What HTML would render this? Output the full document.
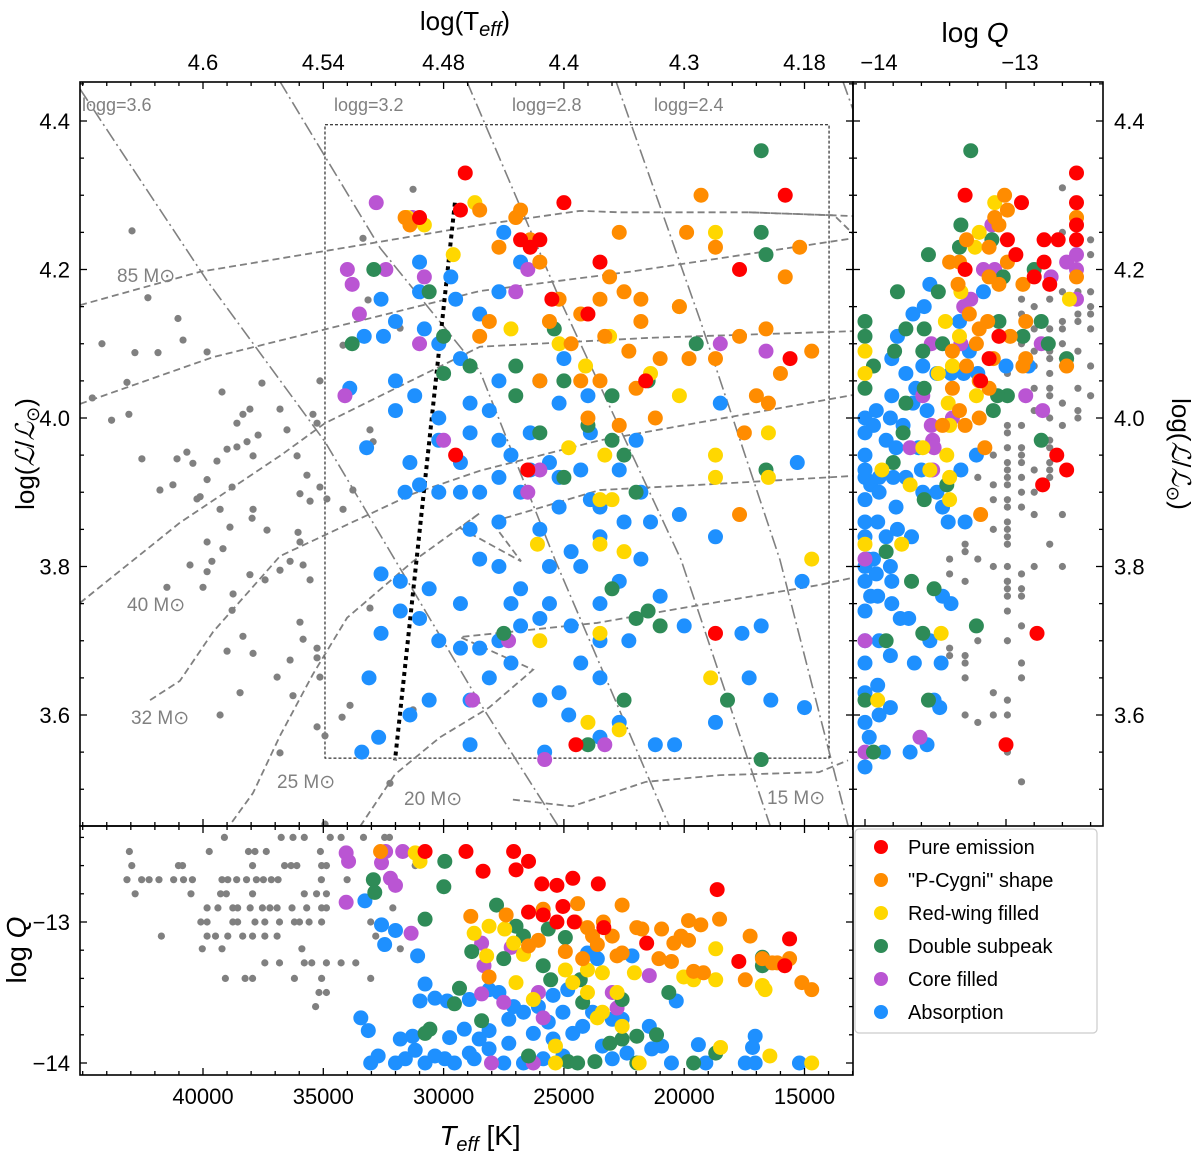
<!DOCTYPE html>
<html><head><meta charset="utf-8">
<style>
html,body{margin:0;padding:0;background:#fff;}
svg{display:block;font-family:"Liberation Sans",sans-serif;}
</style></head>
<body>
<svg id="chart" width="1200" height="1155" viewBox="0 0 1200 1155" xmlns="http://www.w3.org/2000/svg">
<defs>
<clipPath id="cm"><rect x="80" y="82" width="773" height="744"/></clipPath>
<clipPath id="cr"><rect x="853" y="82" width="250" height="744"/></clipPath>
<clipPath id="cb"><rect x="80" y="826" width="773" height="249"/></clipPath>
</defs>
<g id="gMain" clip-path="url(#cm)"></g>
<g id="gRight" clip-path="url(#cr)"></g>
<g id="gBot" clip-path="url(#cb)"></g>
<g id="gAxes"></g>
</svg>
<script>
// ---------- DATA (Teff in kK, logL, logQ) ----------
const classNames=["Pure emission","\"P-Cygni\" shape","Red-wing filled","Double subpeak","Core filled","Absorption"];
const classColors=["#ff0000","#ff8c00","#ffd700","#2e8b57","#ba55d3","#1e90ff"];

const hrGrey=[[42.95,4.252],[42.29,4.162],[41.04,4.134],[40.83,4.105],[42.83,4.088],[41.87,4.088],[43.16,4.048],[43.08,4.005],[42.54,3.945],[41.79,3.903],[41.25,3.910],[41.08,3.945],[40.67,3.954],[40.42,3.939],[40.12,3.894],[39.83,3.917],[39.42,3.942],[39.00,3.958],[38.79,3.907],[38.59,3.961],[38.17,3.968],[37.92,3.949],[38.34,4.005],[38.05,4.012],[37.71,3.977],[37.55,4.047],[36.80,4.012],[36.51,3.984],[36.09,3.949],[35.97,3.898],[35.68,3.923],[35.43,4.005],[35.26,3.993],[35.14,4.050],[39.83,4.089],[39.21,4.035],[38.59,3.993],[40.25,3.891],[39.29,3.877],[38.88,3.853],[37.92,3.877],[39.83,3.833],[39.17,3.824],[37.96,3.865],[37.34,3.849],[39.83,3.793],[40.00,3.772],[40.54,3.802],[39.63,3.807],[38.79,3.741],[38.75,3.763],[38.05,3.789],[37.42,3.782],[36.80,3.795],[36.38,3.807],[35.84,3.802],[35.55,3.782],[35.97,3.833],[36.05,3.846],[35.55,3.888],[35.14,3.907],[34.85,3.891],[38.34,3.706],[37.92,3.683],[39.00,3.686],[38.46,3.630],[36.92,3.651],[36.38,3.674],[35.84,3.702],[35.97,3.725],[35.26,3.690],[35.26,3.677],[35.14,3.651],[36.26,3.626],[36.80,3.549],[35.26,3.584],[34.93,3.572],[39.29,3.600],[41.50,3.772],[34.22,3.597],[33.89,3.613],[33.06,3.744],[34.18,3.877],[33.77,3.903],[32.93,3.968],[34.18,4.098],[33.39,4.136],[33.14,4.159],[33.35,4.242],[31.27,4.308],[31.81,4.121],[33.06,3.984],[31.27,3.607],[32.23,3.508],[34.93,3.453],[44.2,4.10],[43.8,3.997],[44.6,4.027]];

const hrBlue=[[32.5,4.11],[33.3,4.11],[32.0,4.13],[30.8,4.12],[30.2,4.10],[29.3,4.08],[32.0,4.05],[31.2,4.03],[32.0,4.01],[30.2,4.00],[28.9,4.02],[28.1,4.01],[28.9,3.98],[30.2,3.97],[33.2,3.96],[31.4,3.94],[31.6,3.90],[31.0,3.91],[30.2,3.90],[29.3,3.90],[28.5,3.90],[27.7,3.92],[26.8,3.90],[26.4,3.93],[27.2,3.95],[25.6,3.94],[25.2,3.92],[24.3,3.93],[23.9,3.89],[23.5,3.88],[25.2,3.88],[27.7,3.86],[28.9,3.85],[28.5,3.81],[27.7,3.80],[26.8,3.77],[25.6,3.80],[24.7,3.82],[23.5,3.84],[26.0,3.73],[26.8,3.72],[27.7,3.70],[28.5,3.69],[29.3,3.69],[30.2,3.70],[31.0,3.73],[31.8,3.74],[32.6,3.79],[31.8,3.78],[32.6,3.71],[30.6,3.77],[29.3,3.75],[25.6,3.75],[24.7,3.72],[23.5,3.75],[22.7,3.78],[24.3,3.67],[23.5,3.65],[25.2,3.63],[26.0,3.62],[27.2,3.67],[28.1,3.65],[28.9,3.62],[30.6,3.62],[31.4,3.60],[33.1,3.65],[32.7,3.57],[33.4,3.55],[28.9,3.56],[25.8,3.55],[23.5,3.57],[21.2,3.56],[20.4,3.56],[22.7,3.59],[18.7,3.59],[17.6,3.71],[16.8,3.72],[17.3,3.65],[16.4,3.62],[15.0,3.61],[15.1,3.78],[18.7,3.84],[20.2,3.87],[15.3,3.94],[18.5,4.02],[33.9,4.04],[32.6,4.16],[31.0,4.17],[29.5,4.16],[28.5,4.14],[27.7,4.17],[27.5,4.25],[26.8,4.21],[29.7,4.19],[31.0,4.21],[27.7,4.05],[26.0,4.05],[25.2,4.02],[23.9,3.98],[22.7,3.93],[21.8,3.90],[21.4,3.86],[27.7,3.97],[26.4,3.98],[29.3,3.94],[23.5,3.70],[21.8,3.81],[22.3,3.70],[27.2,3.75],[26.0,3.85],[24.3,3.80],[22.0,3.97],[24.0,4.03],[25.0,4.08],[22.5,3.86],[21.0,3.76],[20.0,3.72],[24.8,3.60]];
const hrPurple=[[32.8,4.29],[31.3,4.27],[34.0,4.20],[33.8,4.18],[33.5,4.14],[34.1,4.03],[31.0,4.10],[32.4,4.20],[26.0,3.93],[26.5,3.90],[27.3,3.70],[18.5,4.10],[16.6,4.09],[25.8,3.54],[23.3,3.56],[28.8,3.62],[30.8,4.19],[30.0,3.97],[26.5,4.20],[27.0,4.17]];
const hrGreen=[[16.8,4.36],[16.8,4.25],[16.6,4.22],[30.6,4.17],[25.4,4.12],[30.0,4.11],[28.9,4.07],[27.0,4.07],[27.0,4.03],[25.0,4.05],[24.0,3.99],[23.0,3.97],[22.5,3.95],[21.5,4.05],[26.0,3.98],[25.0,3.92],[22.0,3.90],[33.8,4.10],[32.9,4.20],[30.0,4.06],[22.0,3.73],[21.0,3.72],[21.5,3.74],[23.0,3.77],[27.5,3.71],[22.5,3.62],[18.2,3.62],[16.8,3.54],[24.0,3.56],[16.6,3.93],[19.5,4.10],[23.0,4.03]];
const hrGold=[[28.7,4.29],[31.5,4.27],[30.8,4.26],[18.7,4.25],[20.2,4.15],[23.1,4.11],[25.2,4.10],[27.2,4.12],[24.1,4.07],[21.4,4.06],[20.2,4.03],[18.7,3.95],[18.7,3.92],[16.5,3.98],[23.3,3.95],[23.5,3.89],[23.0,3.89],[26.1,3.83],[23.5,3.83],[22.5,3.82],[23.5,3.71],[18.9,3.65],[26.0,3.70],[24.0,3.59],[22.7,3.58],[14.7,3.81],[29.6,4.22],[16.5,3.92],[24.8,3.96]];
const hrOrange=[[19.3,4.30],[19.9,4.25],[18.7,4.23],[22.7,4.25],[23.1,4.19],[22.5,4.17],[21.8,4.16],[23.5,4.16],[25.2,4.16],[24.3,4.14],[25.6,4.13],[26.8,4.28],[26.4,4.24],[27.7,4.23],[28.5,4.28],[28.1,4.13],[26.0,4.21],[28.5,4.11],[24.7,4.10],[23.3,4.11],[21.8,4.13],[20.2,4.15],[21.0,4.08],[19.8,4.08],[18.7,4.08],[17.7,4.11],[16.6,4.12],[15.8,4.19],[15.2,4.23],[14.7,4.09],[16.5,4.02],[17.5,3.98],[17.7,3.87],[21.2,4.00],[22.7,3.99],[23.5,4.05],[24.3,4.05],[22.3,4.09],[26.0,4.05],[31.4,4.26],[31.6,4.27],[27.0,4.27],[24.0,4.00],[22.0,4.04],[16.0,4.06],[17.0,4.03]];
const hrRed=[[29.1,4.33],[25.0,4.29],[15.8,4.30],[17.7,4.20],[23.5,4.21],[26.0,4.24],[26.8,4.24],[26.4,4.23],[21.6,4.05],[15.6,4.08],[18.7,3.71],[24.5,3.56],[29.5,3.95],[26.5,3.93],[29.3,4.28],[31.0,4.27],[25.5,4.16],[24.0,4.14]];

// right panel: logQ vs logL
const qGreyCols=[-13.40,-13.29,-13.20,-13.09,-12.99,-12.89,-12.80,-12.69,-12.60,-12.49,-12.40];
const qGreyL=[[3.81,3.79,3.69,3.68],[3.83,3.82,3.78,3.68,3.67,3.65,3.60,3.44],[3.92,3.81,3.70,3.59],[3.95,3.91,3.89,3.85,3.80,3.63,3.60],[4.06,3.99,3.98,3.96,3.94,3.93,3.92,3.91,3.89,3.88,3.86,3.85,3.84,3.83,3.80,3.78,3.78,3.77,3.76,3.74,3.70,3.62,3.60,3.55],[4.16,4.14,4.10,3.99,3.96,3.95,3.94,3.92,3.90,3.88,3.79,3.77,3.76,3.72,3.67,3.65,3.51],[4.15,4.12,4.09,4.07,4.04,4.01,3.93,3.90,3.87,3.80],[4.16,4.12,4.09,4.08,4.06,4.04,4.03,4.00,3.97,3.96,3.94,3.93,3.92,3.83],[4.31,4.25,4.17,4.13,4.12,4.10,4.08,4.07,4.02,3.99,3.87,3.80],[4.17,4.14,4.13,4.09,4.04,4.01,4.00],[4.24,4.22,4.17,4.15,4.14,4.12,4.07,4.03]];
const qBlue=[[-13.54,4.18],[-13.58,4.15],[-13.66,4.14],[-13.16,4.17],[-13.33,4.13],[-13.26,4.09],[-13.77,4.11],[-13.81,4.08],[-13.71,4.06],[-13.59,4.07],[-13.49,4.06],[-13.39,4.06],[-13.30,4.06],[-13.20,4.06],[-13.00,4.07],[-12.84,4.07],[-13.64,4.04],[-13.81,4.03],[-13.92,4.01],[-13.94,3.99],[-13.82,4.00],[-13.73,3.99],[-13.66,4.02],[-13.56,4.01],[-13.85,3.97],[-13.78,3.96],[-13.62,3.96],[-14.00,3.98],[-14.00,3.95],[-14.00,3.92],[-14.00,3.89],[-14.00,3.86],[-13.96,3.91],[-13.90,3.90],[-13.80,3.92],[-13.71,3.92],[-13.59,3.90],[-13.49,3.90],[-13.60,3.93],[-13.32,3.93],[-13.21,3.95],[-13.78,3.88],[-13.45,3.88],[-13.41,3.86],[-13.29,3.86],[-13.91,3.86],[-13.77,3.85],[-13.85,3.84],[-13.67,3.84],[-13.98,3.81],[-13.92,3.79],[-13.82,3.80],[-14.00,3.78],[-13.96,3.76],[-13.91,3.76],[-13.81,3.78],[-14.00,3.74],[-13.81,3.75],[-13.45,3.76],[-13.39,3.75],[-13.75,3.73],[-13.69,3.73],[-14.00,3.70],[-13.90,3.70],[-13.54,3.70],[-13.46,3.67],[-13.65,3.67],[-13.82,3.68],[-14.00,3.67],[-13.91,3.64],[-14.00,3.63],[-13.82,3.61],[-13.90,3.60],[-14.00,3.59],[-13.51,3.62],[-13.47,3.61],[-13.97,3.57],[-13.87,3.55],[-13.68,3.55],[-13.56,3.56],[-14.00,3.53],[-14.00,3.84],[-14.00,3.80],[-13.94,3.81],[-14.00,4.00],[-14.00,3.93],[-13.90,3.92]];
const qPurple=[[-13.10,4.26],[-13.16,4.20],[-13.08,4.20],[-13.25,4.16],[-13.30,4.15],[-13.53,4.10],[-13.32,4.10],[-12.57,4.21],[-12.68,4.19],[-12.50,4.22],[-12.50,4.20],[-12.50,4.16],[-12.75,4.10],[-12.86,4.03],[-12.74,4.01],[-13.59,4.03],[-13.53,3.99],[-13.52,3.97],[-13.68,3.96],[-13.51,3.96],[-13.52,3.93],[-14.00,3.81],[-14.00,3.70],[-13.61,3.57],[-14.00,3.55],[-13.38,4.00]];
const qGreen=[[-13.25,4.36],[-13.32,4.26],[-13.33,4.23],[-13.55,4.22],[-13.77,4.17],[-13.48,4.17],[-13.10,4.24],[-13.02,4.19],[-12.80,4.20],[-14.00,4.13],[-14.00,4.11],[-13.71,4.12],[-13.58,4.12],[-13.45,4.10],[-13.59,4.09],[-13.79,4.09],[-13.94,4.07],[-14.00,4.04],[-13.05,4.13],[-12.88,4.11],[-12.75,4.13],[-12.70,4.10],[-12.57,4.08],[-13.09,4.01],[-12.99,4.03],[-13.06,4.03],[-13.71,4.02],[-13.73,3.98],[-13.80,3.94],[-13.42,3.91],[-13.58,3.89],[-13.85,3.82],[-13.67,3.78],[-13.51,3.77],[-13.21,3.72],[-13.59,3.71],[-13.85,3.70],[-13.55,3.62],[-14.00,3.62],[-13.94,3.55],[-12.75,3.97],[-13.58,4.04]];
const qGold=[[-13.08,4.29],[-13.19,4.25],[-13.22,4.23],[-13.32,4.17],[-13.43,4.13],[-13.33,4.11],[-13.48,4.06],[-13.38,4.07],[-13.21,4.03],[-13.41,4.02],[-13.40,3.99],[-13.59,3.96],[-13.42,3.95],[-13.54,3.93],[-13.88,3.93],[-13.68,3.91],[-13.40,3.92],[-13.40,3.89],[-14.00,4.09],[-14.00,4.06],[-14.00,3.83],[-13.74,3.83],[-13.46,3.71],[-13.91,3.62],[-12.55,4.16],[-12.50,4.27]];
const qOrange=[[-13.01,4.30],[-12.99,4.28],[-13.05,4.26],[-13.08,4.27],[-13.12,4.23],[-13.28,4.24],[-13.40,4.21],[-13.33,4.21],[-13.12,4.19],[-12.99,4.21],[-13.05,4.18],[-12.88,4.18],[-13.34,4.18],[-13.26,4.14],[-13.19,4.12],[-13.13,4.13],[-12.97,4.11],[-12.86,4.13],[-13.21,4.10],[-13.38,4.09],[-13.28,4.07],[-13.09,4.08],[-13.19,4.05],[-12.88,4.07],[-12.86,4.08],[-13.12,4.04],[-13.38,4.04],[-13.33,4.01],[-13.29,3.99],[-13.19,4.00],[-13.45,3.99],[-13.15,3.96],[-13.18,3.87],[-12.57,4.07],[-12.50,4.19],[-12.50,4.27]];
const qRed=[[-12.50,4.33],[-13.29,4.30],[-12.89,4.29],[-12.50,4.29],[-12.50,4.26],[-12.73,4.24],[-12.63,4.24],[-12.99,4.24],[-12.93,4.22],[-12.73,4.21],[-12.80,4.19],[-12.69,4.18],[-13.29,4.20],[-13.05,4.11],[-13.12,4.08],[-13.18,4.05],[-12.64,3.95],[-12.57,3.93],[-12.74,3.91],[-12.78,3.71],[-13.00,3.56],[-12.50,4.24]];

// bottom panel: Teff (kK) vs logQ
const tqGreyRows=[-12.40,-12.50,-12.60,-12.70,-12.80,-12.90,-13.00,-13.10,-13.19,-13.29,-13.40,-13.50,-13.60];
const tqGreyT=[[39.11,36.75,36.26,35.79,34.71,34.26,33.33,32.45,32.25],[43.06,39.74,38.11,37.84,37.37,35.12],[42.96,41.02,40.85,37.94,36.61,36.34,36.10,35.07,34.87,31.18],[43.16,42.55,42.24,41.83,41.22,40.81,40.44,39.21,38.97,38.60,38.19,37.78,37.49,37.16,36.88,35.08,34.01],[42.82,40.50,39.27,39.03,37.94,35.79,35.28,34.87],[39.83,39.38,38.76,38.56,38.04,37.53,37.22,36.92,36.30,35.69,35.07,34.87,32.11],[40.09,39.83,38.76,38.56,37.84,37.43,36.82,36.20,35.99,35.59,35.07,33.03],[41.73,39.83,39.48,38.97,38.35,37.94,37.43,36.92,32.82],[40.03,39.21,35.89,31.80],[37.43,36.82,35.79,35.48,34.87,34.26,33.65],[39.07,38.25,37.94,36.20,35.07,33.03],[35.18,34.87],[35.32]];
const tqBlue=[[33.27,-12.85],[32.58,-13.02],[32.00,-13.06],[32.45,-13.16],[31.08,-13.24],[30.77,-13.44],[30.98,-13.56],[30.36,-13.54],[29.85,-13.56],[28.93,-13.55],[28.11,-13.48],[27.70,-13.50],[33.44,-13.68],[33.13,-13.77],[31.80,-13.83],[31.29,-13.81],[29.75,-13.82],[29.14,-13.76],[28.52,-13.83],[28.11,-13.77],[27.29,-13.69],[26.68,-13.64],[26.06,-13.60],[25.45,-13.52],[24.84,-13.48],[24.02,-13.22],[23.61,-13.26],[22.17,-13.24],[22.58,-13.69],[21.45,-13.74],[20.33,-13.56],[19.41,-13.87],[17.05,-13.81],[17.16,-13.89],[32.72,-13.95],[33.03,-14.00],[32.00,-14.00],[31.59,-13.97],[30.77,-14.00],[29.95,-13.97],[29.55,-14.00],[28.73,-13.97],[27.50,-14.00],[26.68,-14.00],[25.86,-13.97],[25.04,-13.95],[22.99,-13.97],[21.35,-13.90],[20.53,-14.00],[19.10,-14.00],[17.46,-14.00],[17.05,-14.00],[15.21,-14.00],[27.29,-13.86],[26.27,-13.79],[25.45,-13.83],[24.63,-13.79],[23.81,-13.64],[23.40,-13.88],[20.94,-13.88],[22.38,-13.93],[27.09,-13.60],[25.65,-13.71],[25.04,-13.64],[24.22,-13.74],[22.99,-13.69],[28.93,-13.93],[28.11,-13.90],[30.36,-13.95],[31.18,-13.91]];
const tqPurple=[[34.05,-12.51],[33.95,-12.57],[32.41,-12.50],[31.70,-12.50],[32.58,-12.58],[32.21,-12.69],[32.00,-12.74],[34.05,-12.86],[31.35,-13.08],[28.42,-13.15],[28.32,-13.31],[27.19,-13.18],[27.50,-13.57],[28.42,-13.51],[26.06,-13.50],[25.86,-13.68],[22.99,-13.50],[21.45,-13.38],[22.79,-13.61],[28.01,-14.00],[26.27,-14.00]];
const tqGreen=[[29.95,-12.57],[29.99,-12.75],[32.92,-12.70],[32.86,-12.79],[30.77,-12.98],[27.80,-12.88],[26.99,-13.03],[26.68,-13.10],[25.65,-13.05],[24.94,-13.11],[28.83,-13.21],[27.50,-13.26],[25.86,-13.31],[25.55,-13.41],[24.32,-13.41],[20.64,-13.50],[22.58,-13.55],[24.22,-13.57],[29.34,-13.47],[29.55,-13.58],[28.42,-13.70],[30.57,-13.76],[30.77,-13.79],[21.97,-13.81],[21.15,-13.80],[22.58,-13.83],[23.09,-13.86],[18.69,-13.93],[19.61,-14.00],[16.75,-13.25],[16.75,-13.31],[26.47,-13.95],[24.83,-13.99],[23.71,-13.99],[24.43,-14.00],[21.97,-14.00]];
const tqGold=[[31.18,-12.51],[30.98,-12.57],[28.11,-13.03],[28.73,-13.08],[27.46,-13.05],[27.09,-13.15],[28.21,-13.24],[26.68,-13.23],[26.99,-13.43],[24.94,-13.34],[24.02,-13.34],[24.63,-13.43],[23.40,-13.36],[24.02,-13.50],[22.79,-13.50],[22.58,-13.74],[23.40,-13.64],[25.35,-13.88],[22.07,-13.36],[20.02,-13.39],[19.61,-13.41],[18.69,-13.41],[18.69,-13.19],[16.75,-13.45],[16.64,-13.48],[18.49,-13.89],[16.44,-13.95],[14.70,-14.00],[21.87,-14.00],[25.35,-14.00],[23.61,-13.68],[26.27,-13.55]];
const tqOrange=[[32.62,-12.50],[28.87,-12.96],[27.40,-12.95],[25.86,-12.91],[24.43,-12.87],[22.58,-12.88],[24.53,-13.00],[23.36,-13.00],[21.97,-13.04],[19.82,-12.99],[19.31,-13.02],[18.53,-12.98],[20.13,-13.10],[19.82,-13.13],[17.26,-13.10],[16.13,-13.29],[15.62,-13.26],[14.70,-13.48],[15.11,-13.43],[17.46,-13.41],[19.61,-13.35],[19.20,-13.36],[20.53,-13.28],[21.05,-13.26],[22.58,-13.22],[22.99,-13.10],[23.81,-13.10],[23.61,-13.16],[26.06,-13.13],[26.47,-13.17],[24.94,-13.21],[24.22,-13.26],[28.11,-13.39],[22.79,-13.24],[21.76,-13.05],[20.43,-13.15],[20.94,-13.05],[24.02,-13.04],[16.75,-13.26],[16.34,-13.29]];
const tqRed=[[30.77,-12.50],[29.07,-12.50],[27.09,-12.50],[26.47,-12.57],[28.36,-12.64],[26.99,-12.63],[25.92,-12.73],[25.29,-12.74],[24.63,-12.69],[23.57,-12.73],[18.63,-12.77],[26.47,-12.93],[25.86,-12.95],[25.04,-12.89],[25.29,-13.00],[24.57,-13.00],[23.34,-13.04],[21.56,-13.15],[15.62,-13.12],[17.73,-13.28],[15.82,-13.31]];

// evolutionary tracks (Teff kK, logL)
const trackNames=["85","60","85b","40","32","25","20","15"];
const trackPts=[
 [[45.11,4.152],[40.12,4.197],[34.72,4.226],[28.49,4.260],[24.33,4.279],[22.67,4.277],[17.31,4.277],[12.98,4.272]],
 [[45.11,4.019],[39.58,4.082],[28.49,4.171],[22.25,4.197],[12.98,4.242]],
 [[17.31,4.277],[13.77,4.273],[12.98,4.248]],
 [[45.11,3.751],[40.96,3.859],[36.80,3.949],[34.93,3.993],[28.49,4.096],[21.42,4.108],[12.98,4.117]],
 [[42.20,3.620],[40.96,3.646],[39.58,3.712],[36.80,3.814],[31.27,3.898],[28.49,3.929],[23.50,3.970],[12.98,4.031]],
 [[38.79,3.456],[37.92,3.495],[36.80,3.572],[35.43,3.655],[34.01,3.731],[31.27,3.807],[28.49,3.872],[29.32,3.852],[26.78,3.807],[28.0,3.86],[23.50,3.903],[19.34,3.910],[12.98,3.922]],
 [[33.47,3.45],[32.02,3.52],[30.15,3.57],[28.11,3.61],[26.28,3.661],[29.32,3.705],[23.62,3.724],[19.92,3.745],[14.40,3.775],[12.98,3.785]],
 [[27.12,3.486],[24.66,3.477],[21.59,3.510],[18.51,3.519],[14.40,3.523],[13.19,3.539]]
];
const trackLabels=[["85 M⊙",117,282],["40 M⊙",127,611],["32 M⊙",131,724],["25 M⊙",277,788],["20 M⊙",404,805],["15 M⊙",767,804]];
// iso-gravity lines
const loggNames=["3.6","3.2","2.8","2.4","2.0"];
const loggPts=[
 [[45.11,4.443],[44.07,4.392],[39.83,4.185],[34.93,3.968],[32.02,3.809],[28.49,3.616],[25.25,3.451]],
 [[36.80,4.453],[32.64,4.229],[28.49,4.063],[25.37,3.809],[20.63,3.451]],
 [[29.03,4.453],[25.16,4.159],[20.13,3.809],[16.43,3.451]],
 [[22.83,4.453],[19.34,4.132],[16.02,3.809],[13.19,3.451]],
 [[13.40,4.453],[12.98,4.415]]
];
const loggLabelX=[80,332,510,652];
const dottedLine=[[29.53,4.290],[32.02,3.539]];
const boxT=[34.93,13.98], boxL=[4.395,3.542];
const teffTicks=[40,35,30,25,20,15];
const topTickLabels=["4.6","4.54","4.48","4.4","4.3","4.18"];
const lTicks=[4.4,4.2,4.0,3.8,3.6];
const qTicks=[-14,-13];

// ---------- AXES ----------
const xT=t=>203+(40-t)*24.06;
const yL=l=>121+(4.4-l)*742.5;
const xQ=q=>865+(q+14)*141;
const yQ=q=>922+(-13-q)*141;
const NS="http://www.w3.org/2000/svg";
function mk(tag,attrs,parent){const e=document.createElementNS(NS,tag);for(const k in attrs)e.setAttribute(k,attrs[k]);parent.appendChild(e);return e;}
const gM=document.getElementById("gMain"),gR=document.getElementById("gRight"),gB=document.getElementById("gBot"),gA=document.getElementById("gAxes");

let bx=mk("rect",{x:xT(boxT[0]),y:yL(boxL[0]),width:xT(boxT[1])-xT(boxT[0]),height:yL(boxL[1])-yL(boxL[0]),fill:"none",stroke:"#000","stroke-width":1,"stroke-dasharray":"3,2"},gM);


loggPts.forEach((pts,i)=>{
 const p=mk("polyline",{points:pts.map(d=>xT(d[0])+","+yL(d[1])).join(" "),fill:"none",stroke:"#808080","stroke-width":1.6,"stroke-dasharray":"14,4,2,4"},gM);
 
 
});
loggLabelX.forEach((x,i)=>{
 const t=mk("text",{x:x+2,y:111,"font-size":18,fill:"#808080"},gM);t.textContent="logg="+loggNames[i];
 
 
});
trackPts.forEach((pts,i)=>{
 const p=mk("polyline",{points:pts.map(d=>xT(d[0])+","+yL(d[1])).join(" "),fill:"none",stroke:"#808080","stroke-width":1.8,"stroke-dasharray":"7,4"},gM);
 
 
});
trackLabels.forEach(d=>{
 const t=mk("text",{x:d[1],y:d[2],"font-size":19,fill:"#808080"},gM);t.textContent=d[0];
 
 
});
let dl=mk("line",{x1:xT(dottedLine[0][0]),y1:yL(dottedLine[0][1]),x2:xT(dottedLine[1][0]),y2:yL(dottedLine[1][1]),stroke:"#000","stroke-width":4,"stroke-dasharray":"4,4"},gM);



function dots(arr,fx,fy,color,r,parent,name){
 arr.forEach(d=>{
  const c=mk("circle",{cx:fx(d[0]),cy:fy(d[1]),r:r,fill:color},parent);
  
  
 });
}
const G="#808080";
dots(hrGrey,xT,yL,G,3.6,gM,'grey-star-point');
const hrSets=[hrBlue,hrPurple,hrGreen,hrGold,hrOrange,hrRed], order=[5,4,3,2,1,0];
hrSets.forEach((s,i)=>dots(s,xT,yL,classColors[order[i]],7.5,gM,'star-point'));
qGreyCols.forEach((q,i)=>qGreyL[i].forEach(l=>{
 const c=mk("circle",{cx:xQ(q),cy:yL(l),r:3.6,fill:G},gR);
 
 
}));
[qBlue,qPurple,qGreen,qGold,qOrange,qRed].forEach((s,i)=>dots(s,xQ,yL,classColors[order[i]],7.5,gR,'star-point'));
tqGreyRows.forEach((q,i)=>tqGreyT[i].forEach(t=>{
 const c=mk("circle",{cx:xT(t),cy:yQ(q),r:3.6,fill:G},gB);
 
 
}));
[tqBlue,tqPurple,tqGreen,tqGold,tqOrange,tqRed].forEach((s,i)=>dots(s,xT,yQ,classColors[order[i]],7.5,gB,'star-point'));

[[80,82,773,744],[853,82,250,744],[80,826,773,249]].forEach((r,i)=>{
 const e=mk("rect",{x:r[0],y:r[1],width:r[2],height:r[3],fill:"none",stroke:"#000","stroke-width":1.6},gA);
 
 
});
function tick(x1,y1,x2,y2){mk("line",{x1,y1,x2,y2,stroke:"#000","stroke-width":1.3},gA);}
function lab(txt,x,y,anchor,size,name){const t=mk("text",{x,y,"text-anchor":anchor,"font-size":size,fill:"#000"},gA);t.textContent=txt;
 
 return t;}
for(let t=13;t<=45;t++){
 const x=xT(t);if(x<80||x>853)continue;
 const major=teffTicks.includes(t),L=major?7:4;
 tick(x,82,x,82+L);tick(x,826,x,826-L);tick(x,826,x,826+L);tick(x,1075,x,1075-L);
}
teffTicks.forEach((t,i)=>{
 lab(String(t*1000),xT(t),1104,"middle",22,'x-tick-label');
 lab(topTickLabels[i],xT(t),70,"middle",22,'top-tick-label');
});
for(let k=0;k<=20;k++){
 const l=3.45+k*0.05;const y=yL(l);if(y<82||y>826)continue;
 const major=Math.abs((l*10)%2)<0.01||Math.abs((l*10)%2-2)<0.01,L=major?7:4;
 tick(80,y,80+L,y);tick(853,y,853-L,y);tick(853,y,853+L,y);tick(1103,y,1103-L,y);
}
lTicks.forEach(l=>{lab(l.toFixed(1),70,yL(l)+8,"end",22,'y-tick-label');lab(l.toFixed(1),1114,yL(l)+8,"start",22,'right-y-tick-label');});
for(let k=0;k<=9;k++){
 const q=-14+k*0.2;const major=k%5==0,L=major?7:4;
 const x=xQ(q);if(x<=1103){tick(x,82,x,82+L);tick(x,826,x,826-L);}
 const y=yQ(q);if(y>=826){tick(80,y,80+L,y);tick(853,y,853-L,y);}
}
qTicks.forEach(q=>{lab("−"+Math.abs(q),xQ(q)+14,70,"middle",22,'q-top-tick-label');lab("−"+Math.abs(q),70,yQ(q)+8,"end",22,'q-y-tick-label');});
let t1=lab("",465,30,"middle",26,'top-x-axis-title');t1.innerHTML='log(T<tspan font-style="italic" font-size="20" dy="6">eff</tspan><tspan dy="-6">)</tspan>';
let t2=lab("",975,42,"middle",28,'right-top-axis-title');t2.innerHTML='log <tspan font-style="italic">Q</tspan>';
let t3=lab("",480,1145,"middle",28,'x-axis-title');t3.innerHTML='<tspan font-style="italic">T</tspan><tspan font-style="italic" font-size="20" dy="6">eff</tspan><tspan dy="-6">  [K]</tspan>';
let t4=lab("",0,0,"middle",26,'y-axis-title');t4.setAttribute("transform","translate(34,454) rotate(-90)");t4.innerHTML='log(<tspan font-style="italic">ℒ</tspan>/<tspan font-style="italic">ℒ</tspan><tspan font-size="18" dy="5">⊙</tspan><tspan dy="-5">)</tspan>';
let t5=lab("",0,0,"middle",26,'right-y-axis-title');t5.setAttribute("transform","translate(1172,454) rotate(90)");t5.innerHTML='log(<tspan font-style="italic">ℒ</tspan>/<tspan font-style="italic">ℒ</tspan><tspan font-size="18" dy="5">⊙</tspan><tspan dy="-5">)</tspan>';
let t6=lab("",0,0,"middle",28,'bottom-y-axis-title');t6.setAttribute("transform","translate(26,950) rotate(-90)");t6.innerHTML='log <tspan font-style="italic">Q</tspan>';
const lg=mk("g",{},gA);


mk("rect",{x:855,y:829,width:242,height:204,rx:4,fill:"#fff",stroke:"#cccccc","stroke-width":1.2},lg);
classNames.forEach((n,i)=>{
 const y=847+i*33;
 const g=mk("g",{},lg);
 
 
 mk("circle",{cx:881,cy:y,r:7,fill:classColors[i]},g);
 const t=mk("text",{x:908,y:y+7,"font-size":20,fill:"#000"},g);t.textContent=n;
});
</script>
</body></html>
